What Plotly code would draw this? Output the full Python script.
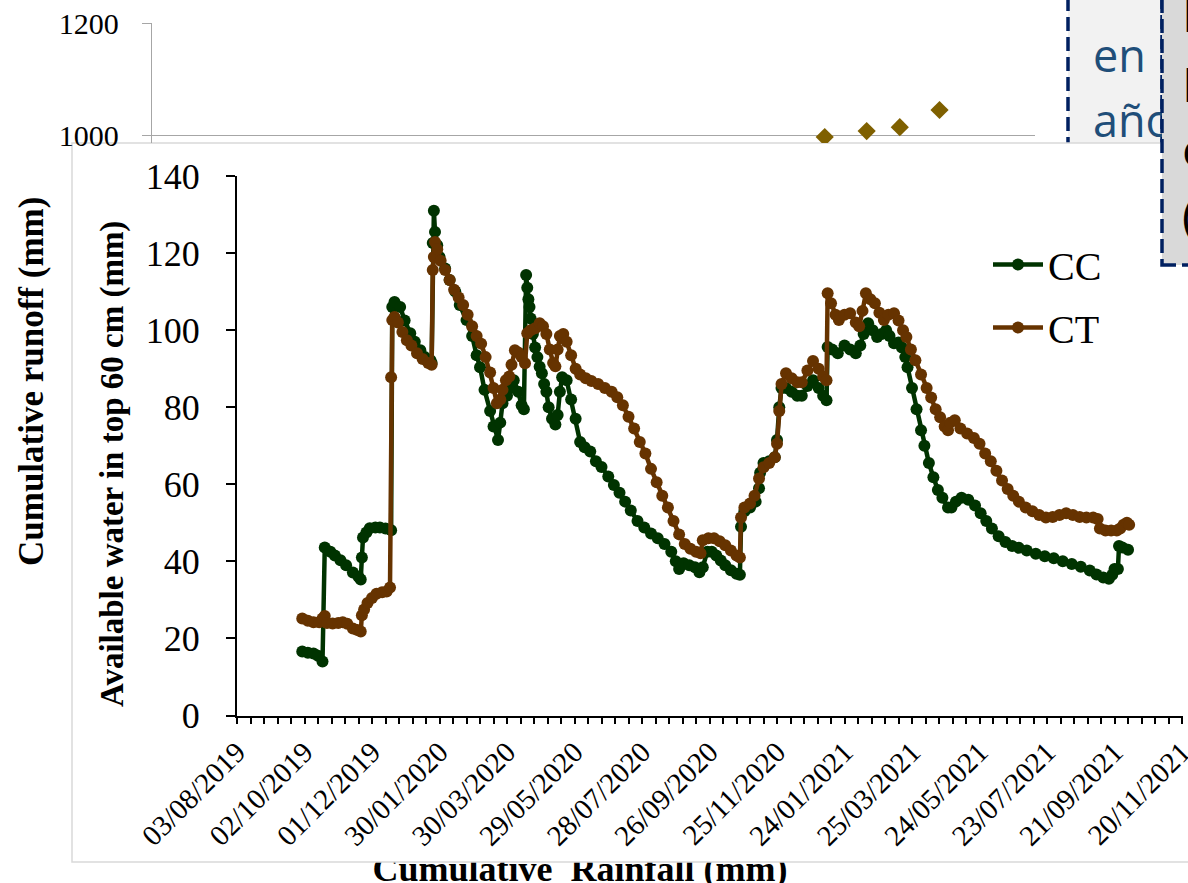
import plotly.graph_objects as go

# ---------------- data ----------------
cc_dates = [
    "2019-09-30", "2019-10-05", "2019-10-10", "2019-10-14", "2019-10-18", "2019-10-20", "2019-10-25",
    "2019-10-29", "2019-11-03", "2019-11-08", "2019-11-14", "2019-11-19", "2019-11-21", "2019-11-22",
    "2019-11-23", "2019-11-26", "2019-11-29", "2019-12-04", "2019-12-08", "2019-12-13", "2019-12-18",
    "2019-12-19", "2019-12-21", "2019-12-26", "2019-12-30", "2020-01-04", "2020-01-08", "2020-01-13",
    "2020-01-17", "2020-01-22", "2020-01-23", "2020-01-24", "2020-01-25", "2020-01-26", "2020-01-28",
    "2020-01-30", "2020-02-04", "2020-02-08", "2020-02-13", "2020-02-17", "2020-02-23", "2020-02-28",
    "2020-03-03", "2020-03-06", "2020-03-10", "2020-03-15", "2020-03-18", "2020-03-22", "2020-03-24",
    "2020-03-26", "2020-03-30", "2020-04-02", "2020-04-05", "2020-04-09", "2020-04-12", "2020-04-14",
    "2020-04-16", "2020-04-17", "2020-04-18", "2020-04-19", "2020-04-20", "2020-04-22", "2020-04-24",
    "2020-04-26", "2020-04-28", "2020-04-30", "2020-05-02", "2020-05-04", "2020-05-06", "2020-05-09",
    "2020-05-12", "2020-05-14", "2020-05-16", "2020-05-18", "2020-05-22", "2020-05-26", "2020-05-30",
    "2020-06-03", "2020-06-07", "2020-06-12", "2020-06-17", "2020-06-22", "2020-06-28", "2020-07-03",
    "2020-07-08", "2020-07-13", "2020-07-18", "2020-07-24", "2020-07-30", "2020-08-05", "2020-08-11",
    "2020-08-17", "2020-08-23", "2020-08-27", "2020-08-30", "2020-09-03", "2020-09-08", "2020-09-13",
    "2020-09-17", "2020-09-20", "2020-09-24", "2020-09-28", "2020-10-02", "2020-10-06", "2020-10-10",
    "2020-10-15", "2020-10-20", "2020-10-23", "2020-10-24", "2020-10-27", "2020-11-01", "2020-11-06",
    "2020-11-09", "2020-11-10", "2020-11-13", "2020-11-18", "2020-11-23", "2020-11-25", "2020-11-27",
    "2020-11-29", "2020-12-03", "2020-12-08", "2020-12-13", "2020-12-17", "2020-12-22", "2020-12-27",
    "2021-01-01", "2021-01-05", "2021-01-08", "2021-01-09", "2021-01-13", "2021-01-18", "2021-01-24",
    "2021-01-29", "2021-02-03", "2021-02-07", "2021-02-10", "2021-02-14", "2021-02-18", "2021-02-22",
    "2021-02-26", "2021-03-02", "2021-03-05", "2021-03-09", "2021-03-13", "2021-03-16", "2021-03-19",
    "2021-03-21", "2021-03-25", "2021-03-29", "2021-04-02", "2021-04-05", "2021-04-09", "2021-04-13",
    "2021-04-17", "2021-04-21", "2021-04-26", "2021-04-29", "2021-05-03", "2021-05-08", "2021-05-14",
    "2021-05-20", "2021-05-25", "2021-05-30", "2021-06-04", "2021-06-10", "2021-06-16", "2021-06-22",
    "2021-06-28", "2021-07-05", "2021-07-13", "2021-07-21", "2021-07-29", "2021-08-06", "2021-08-14",
    "2021-08-22", "2021-08-30", "2021-09-05", "2021-09-11", "2021-09-16", "2021-09-19", "2021-09-21",
    "2021-09-24", "2021-09-25", "2021-09-28", "2021-10-03",
]
cc_values = [
    16.6, 16.3, 16.1, 15.5, 14.0, 43.6, 42.5,
    41.5, 40.3, 39.0, 37.1, 36.0, 35.3, 41.0,
    46.2, 47.5, 48.6, 48.8, 48.8, 48.5, 48.1,
    106.0, 107.3, 106.0, 102.5, 99.2, 97.0, 94.8,
    93.0, 92.2, 91.5, 122.6, 131.0, 125.5, 122.0,
    119.0, 116.0, 113.0, 110.0, 106.5, 102.6, 98.5,
    93.5, 90.4, 84.5, 79.0, 75.0, 71.5, 76.0,
    81.0, 83.0, 85.0, 87.0, 84.0, 80.5, 79.5,
    114.3, 111.0, 108.0, 106.0, 103.0, 99.0, 95.5,
    93.0, 90.5, 88.8, 86.0, 84.0, 80.0, 77.0,
    75.5, 78.0, 84.0, 87.8, 87.0, 82.0, 77.0,
    71.0, 69.6, 68.5, 66.0, 64.5, 62.0, 59.8,
    57.8, 55.5, 53.2, 50.5, 48.8, 47.2, 46.0,
    44.5, 42.5, 40.0, 38.0, 39.5, 39.0, 38.5,
    37.2, 38.5, 42.5, 42.5, 41.5, 40.2, 39.0,
    37.7, 36.8, 36.5, 49.0, 53.0, 54.0, 55.5,
    59.0, 63.0, 65.5, 66.0, 67.0, 71.5, 80.0,
    85.0, 85.0, 84.0, 83.0, 83.0, 85.5, 87.0,
    85.0, 83.0, 81.8, 95.6, 95.0, 94.0, 96.0,
    95.0, 94.0, 96.0, 99.0, 101.8, 100.0, 98.2,
    99.0, 100.0, 98.5, 96.6, 96.8, 95.5, 93.0,
    90.4, 85.0, 79.5, 74.0, 70.0, 65.5, 61.8,
    58.5, 56.5, 54.0, 54.0, 55.5, 56.5, 56.0,
    54.5, 52.5, 50.5, 48.5, 46.5, 45.0, 44.0,
    43.5, 42.8, 42.0, 41.3, 40.8, 40.0, 39.3,
    38.6, 37.6, 36.6, 35.8, 35.5, 36.5, 38.0,
    38.0, 44.0, 43.6, 43.0,
]

ct_dates = [
    "2019-09-30", "2019-10-05", "2019-10-10", "2019-10-15", "2019-10-18", "2019-10-20", "2019-10-22",
    "2019-10-27", "2019-11-01", "2019-11-05", "2019-11-09", "2019-11-14", "2019-11-18", "2019-11-21",
    "2019-11-22", "2019-11-24", "2019-11-27", "2019-12-01", "2019-12-05", "2019-12-10", "2019-12-14",
    "2019-12-17", "2019-12-18", "2019-12-19", "2019-12-21", "2019-12-24", "2019-12-28", "2020-01-01",
    "2020-01-05", "2020-01-10", "2020-01-15", "2020-01-20", "2020-01-23", "2020-01-24", "2020-01-25",
    "2020-01-26", "2020-01-28", "2020-01-31", "2020-02-04", "2020-02-08", "2020-02-12", "2020-02-16",
    "2020-02-20", "2020-02-24", "2020-02-28", "2020-03-03", "2020-03-07", "2020-03-11", "2020-03-15",
    "2020-03-18", "2020-03-21", "2020-03-24", "2020-03-26", "2020-03-29", "2020-04-01", "2020-04-03",
    "2020-04-06", "2020-04-09", "2020-04-12", "2020-04-15", "2020-04-17", "2020-04-20", "2020-04-24",
    "2020-04-28", "2020-05-01", "2020-05-04", "2020-05-07", "2020-05-10", "2020-05-12", "2020-05-14",
    "2020-05-16", "2020-05-19", "2020-05-22", "2020-05-26", "2020-05-30", "2020-06-03", "2020-06-08",
    "2020-06-13", "2020-06-19", "2020-06-25", "2020-07-01", "2020-07-06", "2020-07-11", "2020-07-16",
    "2020-07-21", "2020-07-26", "2020-07-31", "2020-08-05", "2020-08-10", "2020-08-15", "2020-08-20",
    "2020-08-25", "2020-08-30", "2020-09-04", "2020-09-09", "2020-09-14", "2020-09-18", "2020-09-20",
    "2020-09-25", "2020-09-30", "2020-10-05", "2020-10-10", "2020-10-15", "2020-10-20", "2020-10-23",
    "2020-10-24", "2020-10-27", "2020-11-01", "2020-11-05", "2020-11-09", "2020-11-13", "2020-11-18",
    "2020-11-23", "2020-11-25", "2020-11-27", "2020-11-29", "2020-12-03", "2020-12-08", "2020-12-13",
    "2020-12-17", "2020-12-22", "2020-12-27", "2021-01-01", "2021-01-05", "2021-01-08", "2021-01-09",
    "2021-01-12", "2021-01-16", "2021-01-19", "2021-01-24", "2021-01-29", "2021-02-03", "2021-02-06",
    "2021-02-09", "2021-02-12", "2021-02-16", "2021-02-20", "2021-02-24", "2021-02-28", "2021-03-04",
    "2021-03-09", "2021-03-13", "2021-03-17", "2021-03-20", "2021-03-24", "2021-03-28", "2021-04-02",
    "2021-04-07", "2021-04-11", "2021-04-15", "2021-04-19", "2021-04-23", "2021-04-26", "2021-04-28",
    "2021-05-02", "2021-05-07", "2021-05-13", "2021-05-19", "2021-05-24", "2021-05-29", "2021-06-03",
    "2021-06-08", "2021-06-13", "2021-06-18", "2021-06-23", "2021-06-28", "2021-07-04", "2021-07-10",
    "2021-07-16", "2021-07-22", "2021-07-28", "2021-08-03", "2021-08-09", "2021-08-15", "2021-08-21",
    "2021-08-27", "2021-09-02", "2021-09-06", "2021-09-08", "2021-09-13", "2021-09-18", "2021-09-23",
    "2021-09-26", "2021-09-29", "2021-10-02", "2021-10-04",
]
ct_values = [
    25.2, 24.6, 24.2, 24.2, 25.2, 25.8, 24.0,
    23.9, 24.0, 24.2, 23.8, 22.6, 22.2, 21.8,
    26.0, 27.5, 29.2, 30.5, 31.6, 32.0, 32.2,
    33.2, 87.8, 102.6, 103.4, 102.0, 99.5, 97.4,
    96.0, 94.0, 92.5, 91.5, 91.0, 115.6, 119.0,
    122.9, 121.0, 118.0, 115.6, 113.0, 110.5, 108.5,
    106.5, 104.0, 101.0, 98.5, 96.5, 93.0, 89.0,
    85.0, 81.0, 82.0, 84.5, 87.0, 88.0, 91.0,
    94.8, 94.2, 93.0, 91.4, 99.2, 100.0, 100.5,
    101.8, 101.0, 99.0, 95.0, 91.5, 90.6, 95.0,
    98.5, 99.0, 97.0, 93.5, 90.0, 88.5, 87.5,
    86.8, 86.0, 85.0, 84.0, 82.6, 80.5, 77.5,
    74.5, 71.0, 68.0, 64.0, 60.5, 57.0, 54.0,
    50.5, 47.0, 44.5, 43.3, 42.5, 42.1, 45.5,
    46.0, 46.0, 45.2, 44.2, 42.8, 41.5, 41.0,
    51.4, 54.0, 55.0, 57.0, 61.5, 64.4, 65.5,
    67.0, 70.5, 79.0, 86.0, 88.8, 87.5, 86.5,
    86.5, 89.5, 92.0, 90.0, 88.0, 87.0, 109.6,
    107.0, 104.0, 102.6, 104.0, 104.4, 102.0, 101.0,
    105.0, 109.6, 108.0, 107.0, 104.5, 102.6, 104.0,
    104.4, 102.5, 100.0, 98.2, 95.0, 92.2, 88.5,
    85.0, 82.5, 79.5, 77.4, 75.0, 74.0, 76.0,
    76.6, 74.5, 73.2, 72.0, 70.5, 68.0, 66.0,
    63.5, 61.0, 58.8, 57.0, 55.5, 54.0, 53.0,
    52.0, 51.4, 51.5, 52.0, 52.5, 52.0, 51.5,
    51.4, 51.4, 51.0, 48.5, 48.0, 48.0, 48.0,
    48.5, 49.5, 50.0, 49.5,
]

# partly hidden background chart (cumulative runoff vs cumulative rainfall)
bg_rainfall = [1219, 1295, 1355, 1427]
bg_runoff = [996.4, 1007.0, 1014.0, 1044.6]
bg_y_ticks = [1000, 1200]

series_names = ["CC", "CT"]
series_colors = ["#003300", "#663300"]

box1_lines = ["ro", "en", "año"]
box2_lines = ["Lámina", "Lluvia", "escurrida", "(mm)"]

# ---------------- layout helpers ----------------
W, H = 1188, 883


def fx(p):
    return p / W


def fy(p):
    return 1 - p / H


SERIF = "Liberation Serif"
DAY_MS = 86400000

fig = go.Figure()

fig.add_trace(go.Scatter(
    x=bg_rainfall, y=bg_runoff, mode="markers",
    marker=dict(symbol="diamond", size=14, color="#7f6000"),
    xaxis="x2", yaxis="y2", showlegend=False, hoverinfo="skip",
))

for name, dates, vals, col in [
    (series_names[0], cc_dates, cc_values, series_colors[0]),
    (series_names[1], ct_dates, ct_values, series_colors[1]),
]:
    fig.add_trace(go.Scatter(
        x=dates, y=vals, mode="lines+markers", name=name, legendgroup=name,
        line=dict(color=col, width=4.5),
        marker=dict(size=12, color=col),
    ))


def text_shape(txt, left, cy, font, layer):
    return dict(
        type="rect", xref="paper", yref="paper", layer=layer,
        x0=fx(left), x1=fx(left + 60), y0=fy(cy + 25), y1=fy(cy - 25),
        fillcolor="rgba(0,0,0,0)", line=dict(width=0),
        label=dict(text=txt, textposition="middle left", padding=0, font=font),
    )


shapes = []
# box 1 (behind the white panel)
shapes.append(dict(
    type="rect", xref="paper", yref="paper", layer="below",
    x0=fx(1068), x1=fx(1162), y0=fy(175), y1=fy(-20),
    fillcolor="#f2f2f2", line=dict(color="#002060", width=3.5, dash="14px,6px"),
))
for txt, cy in zip(box1_lines, [-14.5, 57.5, 122.0]):
    shapes.append(text_shape(txt, 1090, cy, dict(family="Open Sans", size=45, color="#1f4e79"), "below"))
# background x-title (mostly hidden by the white panel)
shapes.append(dict(
    type="rect", xref="paper", yref="paper", layer="below",
    x0=fx(330), x1=fx(830), y0=fy(890), y1=fy(840),
    fillcolor="rgba(0,0,0,0)", line=dict(width=0),
    label=dict(text="<b>Cumulative\u00a0 Rainfall (mm)</b>", textposition="middle center", padding=0,
               font=dict(family=SERIF, size=36, color="black")),
))
# white panel holding the main chart
shapes.append(dict(
    type="rect", xref="paper", yref="paper", layer="below",
    x0=fx(72), x1=fx(1200), y0=fy(862), y1=fy(143),
    fillcolor="white", line=dict(color="#d9d9d9", width=1.5),
))
# box 2 (on top)
shapes.append(dict(
    type="rect", xref="paper", yref="paper", layer="above",
    x0=fx(1162), x1=fx(1230), y0=fy(265), y1=fy(-20),
    fillcolor="#d9d9d9", line=dict(color="#002060", width=3.5, dash="14px,6px"),
))
for txt, cy in zip(box2_lines, [16, 86, 151, 217]):
    shapes.append(text_shape(txt, 1179, cy, dict(family="Open Sans", size=48, color="black"), "above"))

annotations = [
    dict(text="<b>Cumulative runoff (mm)</b>", xref="paper", yref="paper",
         x=fx(32), y=fy(382), textangle=-90, showarrow=False,
         xanchor="center", yanchor="middle",
         font=dict(family=SERIF, size=35, color="black")),
    dict(text="<b>Available water in top 60 cm (mm)</b>", xref="paper", yref="paper",
         x=fx(113), y=fy(464), textangle=-90, showarrow=False,
         xanchor="center", yanchor="middle",
         font=dict(family=SERIF, size=33, color="black")),
]

fig.update_layout(
    width=W, height=H, autosize=False,
    margin=dict(l=0, r=0, t=0, b=0, pad=0, autoexpand=False),
    paper_bgcolor="white", plot_bgcolor="rgba(0,0,0,0)",
    showlegend=True,
    legend=dict(
        x=fx(988), y=fy(232), xanchor="left", yanchor="top",
        bgcolor="rgba(0,0,0,0)", borderwidth=0,
        font=dict(family=SERIF, size=40, color="black"),
        itemwidth=50, tracegroupgap=8, traceorder="grouped",
    ),
    xaxis=dict(
        domain=[fx(237), fx(1182.6)], anchor="y", type="date", automargin=False,
        range=["2019-08-03", "2021-11-20 12:00"],
        tick0="2019-08-03", dtick=60 * DAY_MS, tickformat="%d/%m/%Y",
        tickangle=-45, ticks="outside", ticklen=6, tickwidth=1.5, tickcolor="black",
        ticklabeloverflow="allow",
        showline=True, linecolor="black", linewidth=2,
        showgrid=False, zeroline=False,
        tickfont=dict(family=SERIF, size=29, color="black"),
        minor=dict(dtick=12 * DAY_MS, tick0="2019-08-03", ticks="outside",
                   ticklen=6, tickwidth=1.5, tickcolor="black", showgrid=False),
    ),
    yaxis=dict(
        domain=[fy(715.5), fy(176)], anchor="x", range=[0, 140], dtick=20, automargin=False,
        ticks="outside", ticklen=9, tickwidth=1.5, tickcolor="black",
        showline=True, linecolor="black", linewidth=2,
        showgrid=False, zeroline=False, ticklabelstandoff=19,
        tickfont=dict(family=SERIF, size=36, color="black"),
    ),
    xaxis2=dict(
        domain=[fx(152), fx(1035)], anchor="y2", range=[0, 1600], automargin=False,
        showgrid=False, showticklabels=False, showline=False, ticks="", zeroline=False,
    ),
    yaxis2=dict(
        domain=[fy(143), fy(23)], anchor="x2", range=[985.71, 1200], automargin=False,
        tickvals=bg_y_ticks, showgrid=True, gridcolor="#a6a6a6", gridwidth=1.3,
        showline=True, linecolor="#a6a6a6", linewidth=1.3,
        ticks="outside", ticklen=9, tickcolor="#a6a6a6", tickwidth=1.3,
        zeroline=False, ticklabelstandoff=17,
        tickfont=dict(family=SERIF, size=30, color="black"),
    ),
    shapes=shapes,
    annotations=annotations,
)

fig.write_html(
    "out.html",
    config={"displayModeBar": False},
    post_script="document.body.style.margin='0';document.body.style.overflow='hidden';",
)
